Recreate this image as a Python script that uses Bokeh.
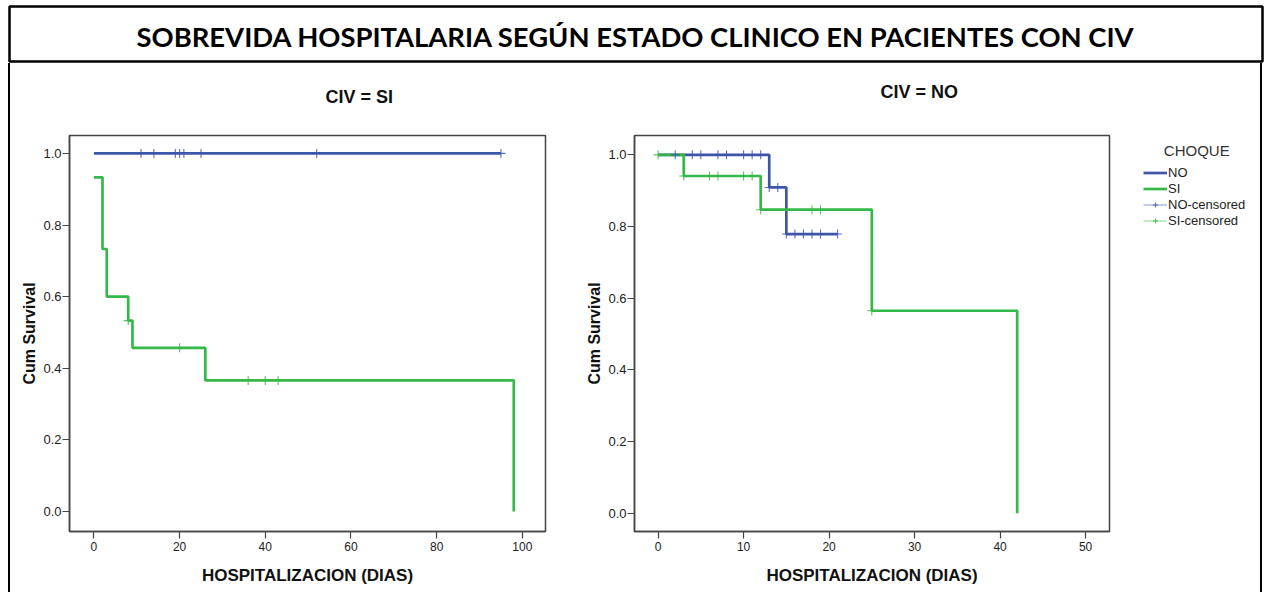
from bokeh.plotting import figure
from bokeh.models import (Range1d, FixedTicker, PrintfTickFormatter, Legend,
                          LegendItem, Label, Spacer)
from bokeh.layouts import row, column
from bokeh.embed import file_html
from bokeh.resources import INLINE

# ---------------- texts ----------------
TITLE = "SOBREVIDA HOSPITALARIA SEGÚN ESTADO CLINICO EN PACIENTES CON CIV"
PANEL_TITLES = ["CIV = SI", "CIV = NO"]
X_LABEL = "HOSPITALIZACION (DIAS)"
Y_LABEL = "Cum Survival"
LEGEND_TITLE = "CHOQUE"
LEGEND_LABELS = ["NO", "SI", "NO-censored", "SI-censored"]

# ---------------- data: CIV = SI ----------------
si_no_time = [0, 95]
si_no_surv = [1.0, 1.0]
si_no_cens_time = [11, 14, 19, 20, 21, 25, 52, 95]
si_no_cens_surv = [1.0, 1.0, 1.0, 1.0, 1.0, 1.0, 1.0, 1.0]

si_si_time = [0, 2, 3, 8, 9, 26, 98]
si_si_surv = [0.933, 0.733, 0.600, 0.533, 0.457, 0.366, 0.0]
si_si_cens_time = [8, 20, 36, 40, 43]
si_si_cens_surv = [0.533, 0.457, 0.366, 0.366, 0.366]

# ---------------- data: CIV = NO ----------------
no_no_time = [0, 13, 15, 21]
no_no_surv = [1.0, 0.909, 0.779, 0.779]
no_no_cens_time = [2, 4, 5, 7, 8, 10, 11, 12, 13, 14, 15, 16, 17, 18, 19, 21]
no_no_cens_surv = [1.0, 1.0, 1.0, 1.0, 1.0, 1.0, 1.0, 1.0,
                   0.909, 0.909, 0.779, 0.779, 0.779, 0.779, 0.779, 0.779]

no_si_time = [0, 3, 12, 25, 42]
no_si_surv = [1.0, 0.941, 0.847, 0.565, 0.0]
no_si_cens_time = [0, 3, 6, 7, 10, 11, 12, 18, 19, 25]
no_si_cens_surv = [1.0, 0.941, 0.941, 0.941, 0.941, 0.941, 0.847, 0.847, 0.847, 0.565]

X_TICKS_LEFT = [0, 20, 40, 60, 80, 100]
X_TICKS_RIGHT = [0, 10, 20, 30, 40, 50]
Y_TICKS = [0.0, 0.2, 0.4, 0.6, 0.8, 1.0]

# ---------------- styles ----------------
BLUE = "#3E56A8"
GREEN = "#34B848"
BLUE_LIGHT = "#8797D0"
GREEN_LIGHT = "#86D68F"
FONT = "Liberation Sans"
AXIS_COLOR = "#444444"

TITLE_H = 63
MAIN_H = 529
BORDER_TOP = 72
BORDER_BOTTOM = 61
NAN = float("nan")


def style_axes(p, xticks):
    p.xgrid.visible = False
    p.ygrid.visible = False
    p.outline_line_color = AXIS_COLOR
    p.outline_line_width = 1.5
    for ax in (p.xaxis[0], p.yaxis[0]):
        ax.axis_line_color = AXIS_COLOR
        ax.axis_line_width = 1.5
        ax.major_tick_line_color = AXIS_COLOR
        ax.major_tick_line_width = 1.2
        ax.major_tick_out = 7
        ax.major_tick_in = 0
        ax.minor_tick_line_color = None
        ax.major_label_text_font = FONT
        ax.major_label_text_color = "#222222"
        ax.axis_label_text_font = FONT
        ax.axis_label_text_font_style = "bold"
        ax.axis_label_text_color = "#111111"
    p.xaxis[0].ticker = FixedTicker(ticks=xticks)
    p.yaxis[0].ticker = FixedTicker(ticks=Y_TICKS)
    p.yaxis[0].formatter = PrintfTickFormatter(format="%.1f")
    p.xaxis[0].major_label_text_font_size = "12px"
    p.yaxis[0].major_label_text_font_size = "13px"
    p.xaxis[0].major_label_standoff = 3
    p.yaxis[0].major_label_standoff = 1
    p.xaxis[0].axis_label = X_LABEL
    p.yaxis[0].axis_label = Y_LABEL
    p.xaxis[0].axis_label_text_font_size = "17px"
    p.yaxis[0].axis_label_text_font_size = "16px"
    p.xaxis[0].axis_label_standoff = 12
    p.yaxis[0].axis_label_standoff = 2
    p.title.text_font = FONT
    p.title.text_font_style = "bold"
    p.title.text_font_size = "18px"
    p.title.text_color = "#111111"
    p.title.align = "left"


# ---------------- title box ----------------
tf = figure(width=1265, height=TITLE_H, x_range=Range1d(0, 1), y_range=Range1d(0, 1),
            toolbar_location=None, output_backend="svg",
            min_border_left=9, min_border_right=3, min_border_top=6, min_border_bottom=2)
tf.axis.visible = False
tf.grid.visible = False
tf.outline_line_color = "black"
tf.outline_line_width = 2.5
tf.add_layout(Label(x=0.5, y=0.45, text=TITLE, text_align="center", text_baseline="middle",
                    text_font="Lato", text_font_style="bold",
                    text_font_size="27.4px", text_color="black"))

# ---------------- left panel: CIV = SI ----------------
pl = figure(width=570, height=MAIN_H, title=PANEL_TITLES[0] + "\n",
            x_range=Range1d(-5.7, 105.4), y_range=Range1d(-0.056, 1.050),
            toolbar_location=None, output_backend="svg",
            min_border_left=59, min_border_right=35,
            min_border_top=BORDER_TOP, min_border_bottom=BORDER_BOTTOM)
style_axes(pl, X_TICKS_LEFT)
pl.title.offset = 256
pl.title.standoff = 17

pl.step(si_no_time, si_no_surv, mode="after", line_color=BLUE, line_width=2.7)
pl.step(si_si_time, si_si_surv, mode="after", line_color=GREEN, line_width=2.7)
pl.scatter(si_no_cens_time, si_no_cens_surv, marker="cross", size=9, line_width=1.1,
           line_color=BLUE, line_alpha=0.85)
pl.scatter(si_si_cens_time, si_si_cens_surv, marker="cross", size=9, line_width=1.1,
           line_color=GREEN, line_alpha=0.85)

# ---------------- right panel: CIV = NO ----------------
pr = figure(width=531, height=MAIN_H, title=PANEL_TITLES[1] + "\n",
            x_range=Range1d(-2.76, 52.8), y_range=Range1d(-0.051, 1.054),
            toolbar_location=None, output_backend="svg",
            min_border_left=54, min_border_right=2,
            min_border_top=BORDER_TOP, min_border_bottom=BORDER_BOTTOM)
style_axes(pr, X_TICKS_RIGHT)
pr.title.offset = 246
pr.title.standoff = 28

pr.step(no_no_time, no_no_surv, mode="after", line_color=BLUE, line_width=2.7)
pr.step(no_si_time, no_si_surv, mode="after", line_color=GREEN, line_width=2.7)
pr.scatter(no_no_cens_time, no_no_cens_surv, marker="cross", size=9, line_width=1.1,
           line_color=BLUE, line_alpha=0.85)
pr.scatter(no_si_cens_time, no_si_cens_surv, marker="cross", size=9, line_width=1.1,
           line_color=GREEN, line_alpha=0.85)

# ---------------- legend (own canvas, right of the right panel) ----------------
lf = figure(width=141, height=MAIN_H, x_range=Range1d(0, 1), y_range=Range1d(0, 1),
            toolbar_location=None, output_backend="svg",
            min_border_left=25, min_border_top=BORDER_TOP, min_border_right=0,
            min_border_bottom=BORDER_BOTTOM)
lf.axis.visible = False
lf.grid.visible = False
lf.outline_line_color = None
g_no = lf.line([NAN], [NAN], line_color=BLUE, line_width=2.7)
g_si = lf.line([NAN], [NAN], line_color=GREEN, line_width=2.7)
g_no_l = lf.line([NAN], [NAN], line_color=BLUE_LIGHT, line_width=1)
g_si_l = lf.line([NAN], [NAN], line_color=GREEN_LIGHT, line_width=1)
g_no_m = lf.scatter([NAN], [NAN], marker="cross", size=9, line_width=1.1,
                    line_color=BLUE, line_alpha=0.85)
g_si_m = lf.scatter([NAN], [NAN], marker="cross", size=9, line_width=1.1,
                    line_color=GREEN, line_alpha=0.85)

legend = Legend(items=[
    LegendItem(label=LEGEND_LABELS[0], renderers=[g_no]),
    LegendItem(label=LEGEND_LABELS[1], renderers=[g_si]),
    LegendItem(label=LEGEND_LABELS[2], renderers=[g_no_l, g_no_m]),
    LegendItem(label=LEGEND_LABELS[3], renderers=[g_si_l, g_si_m]),
], location="top_left")
legend.title = "\u00a0\u00a0\u00a0\u00a0\u00a0" + LEGEND_TITLE
legend.title_text_font = FONT
legend.title_text_font_style = "normal"
legend.title_text_font_size = "15px"
legend.title_text_color = "#333333"
legend.title_standoff = 6
legend.label_text_font = FONT
legend.label_text_font_size = "13px"
legend.label_text_color = "#222222"
legend.label_standoff = 1
legend.label_height = 13
legend.glyph_height = 13
legend.glyph_width = 24
legend.spacing = 1
legend.padding = 0
legend.margin = 7
legend.border_line_color = None
legend.background_fill_alpha = 0
lf.add_layout(legend, "center")

gap_l = Spacer(width=8, height=MAIN_H)
bar_l = Spacer(width=2, height=MAIN_H, styles={"background-color": "black"})
gap_m = Spacer(width=8, height=MAIN_H)
bar_r = Spacer(width=2, height=MAIN_H, styles={"background-color": "black"})
gap_r = Spacer(width=3, height=MAIN_H)

layout = column(tf, row(gap_l, bar_l, pl, pr, lf, gap_m, bar_r, gap_r))

open("out.html", "w").write(file_html(layout, INLINE))
